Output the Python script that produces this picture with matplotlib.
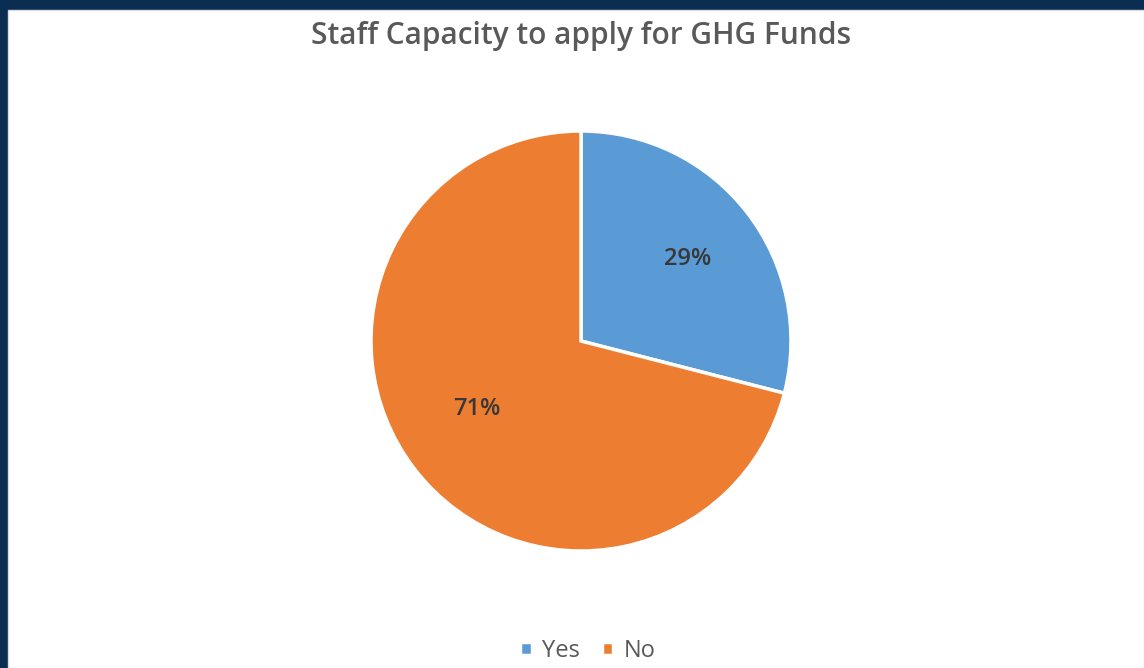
import matplotlib.pyplot as plt
from matplotlib.patches import Rectangle

labels = ["Yes", "No"]
shares = [29, 71]
colors = ["#5B9BD5", "#ED7D31"]
title = "Staff Capacity to apply for GHG Funds"

plt.rcParams['font.family'] = ['Open Sans', 'DejaVu Sans']

W, H = 1144, 668
fig = plt.figure(figsize=(W / 100, H / 100), dpi=100)
fig.patch.set_facecolor("#0B2D52")

# white panel inside the navy frame
fig.patches.append(Rectangle((8 / W, 0), 1 - 8 / W, (H - 10) / H,
                             transform=fig.transFigure, facecolor="white",
                             edgecolor="#DDDDDD", linewidth=1, zorder=-1))

r = 210
cx, cy = 581, 341
ax = fig.add_axes([(cx - r) / W, (H - cy - r) / H, 2 * r / W, 2 * r / H])
ax.set_zorder(2)
wedges, texts, autotexts = ax.pie(
    shares, colors=colors, startangle=90, counterclock=False,
    autopct="%d%%", pctdistance=0.64,
    wedgeprops=dict(edgecolor="white", linewidth=2.5),
    textprops=dict(fontsize=17, fontweight="semibold", color="#383838"))
ax.set_aspect("auto")
ax.set_xlim(-1.0, 1.0)
ax.set_ylim(-1.0, 1.0)

# Excel places the big slice label a bit higher than the wedge midline
x, y = autotexts[1].get_position()
autotexts[1].set_position((x * 0.98, y * 0.83))

fig.text(581 / W, 1 - 36 / H, title, ha="center", va="center",
         fontsize=21.5, fontweight="semibold", color="#595959")

fig.legend(wedges, labels, loc="center", bbox_to_anchor=(588 / W, 1 - 651 / H),
           ncol=2, frameon=False, fontsize=17, handlelength=0.5, handleheight=0.5,
           handletextpad=0.45, columnspacing=0.9, labelcolor="#595959")

fig.savefig("out.png", dpi=100)
